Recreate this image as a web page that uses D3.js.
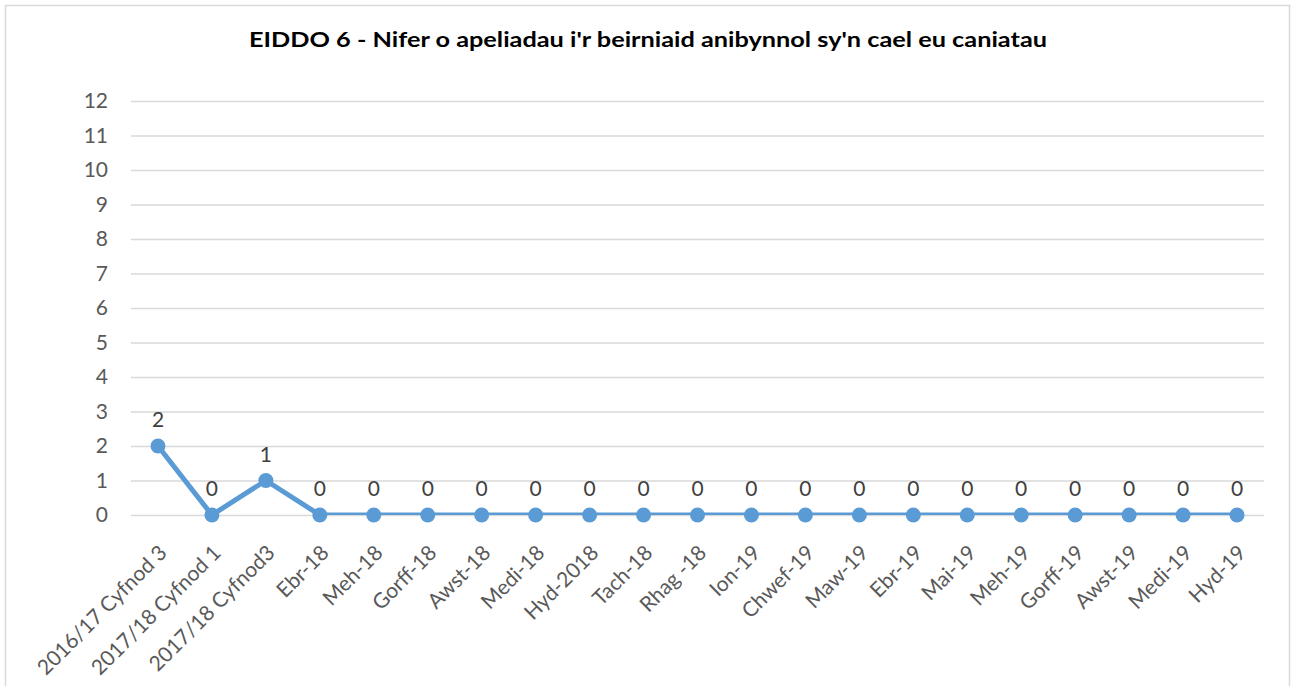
<!DOCTYPE html>
<html>
<head>
<meta charset="utf-8">
<script src="https://cdn.jsdelivr.net/npm/d3@7"></script>
<style>
  body { margin: 0; background: #fff; }
  svg { display: block; }
</style>
</head>
<body>
<script>
(function () {
  'use strict';

  const width = 1293,
    height = 686;

  var title = "EIDDO 6 - Nifer o apeliadau i'r beirniaid anibynnol sy'n cael eu caniatau";

  var categories = [
    "2016/17 Cyfnod 3", "2017/18 Cyfnod 1", "2017/18 Cyfnod3", "Ebr-18", "Meh-18",
    "Gorff-18", "Awst-18", "Medi-18", "Hyd-2018", "Tach-18", "Rhag -18", "Ion-19",
    "Chwef-19", "Maw-19", "Ebr-19", "Mai-19", "Meh-19", "Gorff-19", "Awst-19",
    "Medi-19", "Hyd-19"
  ];

  var values = [2, 0, 1, 0, 0, 0, 0, 0, 0, 0, 0, 0, 0, 0, 0, 0, 0, 0, 0, 0, 0];

  var yTicks = d3.range(0, 13);

  var margin = { left: 131, right: 29, top: 101, bottom: 171 };
  var font = 'Lato, "Open Sans", sans-serif';

  var svg = d3.select('body')
    .append('svg')
    .attr('width', width)
    .attr('height', height);

  // chart border
  svg.append('rect')
    .attr('x', 5.5)
    .attr('y', 5.5)
    .attr('width', 1284)
    .attr('height', 700)
    .style('fill', '#fff')
    .style('stroke', '#d9d9d9')
    .style('stroke-width', 1.5);

  var x = d3.scaleBand()
    .domain(categories)
    .range([margin.left, width - margin.right]);

  var y = d3.scaleLinear()
    .domain([0, 12])
    .range([height - margin.bottom, margin.top]);

  var cx = d => x(d) + x.bandwidth() / 2;

  svg.append('text')
    .attr('x', 648)
    .attr('y', 47)
    .attr('text-anchor', 'middle')
    .style('font-family', font)
    .style('font-weight', 'bold')
    .style('font-size', '21px')
    .attr('textLength', 798)
    .attr('lengthAdjust', 'spacingAndGlyphs')
    .style('fill', '#000')
    .text(title);

  // y axis with gridlines
  var yAxis = svg.append('g')
    .attr('transform', 'translate(' + margin.left + ',0)')
    .call(d3.axisLeft(y).tickValues(yTicks).tickSize(-(width - margin.left - margin.right)).tickPadding(23));
  yAxis.select('.domain').remove();
  yAxis.selectAll('line')
    .style('stroke', '#d9d9d9')
    .style('stroke-width', 1.5);
  yAxis.selectAll('text')
    .style('font-family', font)
    .style('font-size', '21px')
    .style('fill', '#595959');

  // x axis labels
  var xAxis = svg.append('g')
    .attr('transform', 'translate(0,' + y(0) + ')')
    .call(d3.axisBottom(x).tickSize(0));
  xAxis.select('.domain').remove();
  xAxis.selectAll('text')
    .attr('transform', 'translate(5,34) rotate(-45)')
    .attr('x', 0)
    .attr('y', 0)
    .attr('dy', '0.35em')
    .attr('text-anchor', 'end')
    .style('font-family', font)
    .style('font-size', '21px')
    .style('fill', '#595959');

  // clip the line to the plot area, as the original does
  svg.append('clipPath')
    .attr('id', 'plotclip')
    .append('rect')
    .attr('x', 0)
    .attr('y', 0)
    .attr('width', width)
    .attr('height', y(0));

  var line = d3.line()
    .x((d, i) => cx(categories[i]))
    .y(d => y(d));

  svg.append('path')
    .datum(values)
    .attr('clip-path', 'url(#plotclip)')
    .attr('d', line)
    .style('fill', 'none')
    .style('stroke', '#5b9bd5')
    .style('stroke-width', 5)
    .style('stroke-linejoin', 'round');

  svg.selectAll('circle.pt')
    .data(values)
    .enter()
    .append('circle')
    .attr('class', 'pt')
    .attr('cx', (d, i) => cx(categories[i]))
    .attr('cy', d => y(d))
    .attr('r', 7.5)
    .style('fill', '#5b9bd5');

  svg.selectAll('text.lbl')
    .data(values)
    .enter()
    .append('text')
    .attr('class', 'lbl')
    .attr('x', (d, i) => cx(categories[i]))
    .attr('y', d => y(d) - 19)
    .attr('text-anchor', 'middle')
    .style('font-family', font)
    .style('font-size', '21px')
    .style('fill', '#404040')
    .text(d => d);

})();
</script>
</body>
</html>
